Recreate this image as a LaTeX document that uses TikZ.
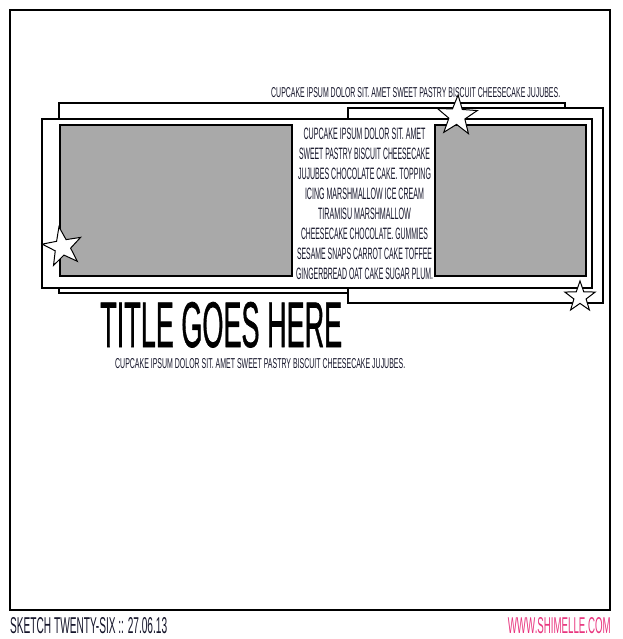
\documentclass[tikz,border=0pt]{standalone}
\usepackage{fontspec}
\setmainfont{Liberation Sans}
\newfontfamily\titlefont[FakeBold=1.2]{Liberation Sans}
\usepackage{graphicx}
\usetikzlibrary{shapes.geometric}
\definecolor{photoGray}{HTML}{A9A9A9}
\definecolor{urlPink}{HTML}{E8357E}
\definecolor{inkText}{HTML}{15152A}
\newcommand\fitw[3]{\resizebox{#1pt}{#2pt}{#3}}
\begin{document}
\begin{tikzpicture}[x=1pt,y=-1pt,
  frame/.style={draw, line width=2.4pt},
  mat/.style={draw, fill=white, line width=1.3pt},
  photo/.style={draw, fill=photoGray, line width=1.1pt},
  starshape/.style={draw, fill=white, star, star points=5, star point ratio=2.5, inner sep=0pt, line width=1pt},
  txt/.style={inner sep=0pt, text=inkText}]
\useasboundingbox (0,0) rectangle (622,639);
\draw[frame] (10,10) rectangle (610,610);
\draw[mat] (59,103) rectangle (565,293);
\draw[mat] (348,108) rectangle (603,303);
\draw[mat] (42,119) rectangle (592,288);
\draw[photo] (60,125) rectangle (292,276);
\draw[photo] (435,125) rectangle (586,276);

\node[txt, anchor=base west] (cap1) at (271,98) {\fitw{289}{10}{CUPCAKE IPSUM DOLOR SIT. AMET SWEET PASTRY BISCUIT CHEESECAKE JUJUBES.}};

\foreach \t/\w [count=\i] in {
  CUPCAKE IPSUM DOLOR SIT. AMET/122,
  SWEET PASTRY BISCUIT CHEESECAKE/131,
  JUJUBES CHOCOLATE CAKE. TOPPING/133,
  ICING MARSHMALLOW ICE CREAM/119,
  TIRAMISU MARSHMALLOW/93,
  CHEESECAKE CHOCOLATE. GUMMIES/127,
  SESAME SNAPS CARROT CAKE TOFFEE/135,
  GINGERBREAD OAT CAKE SUGAR PLUM./137}
  \node[txt, anchor=base] (m\i) at (364.5,{139.5+20*(\i-1)}) {\fitw{\w}{11.5}{\t}};

\node[txt, anchor=base west, text=black] (title) at (100,347) {\fitw{242}{45}{\titlefont TITLE GOES HERE}};
\node[txt, anchor=base west] (sub) at (115,368) {\fitw{290}{10}{CUPCAKE IPSUM DOLOR SIT. AMET SWEET PASTRY BISCUIT CHEESECAKE JUJUBES.}};

\node[txt, anchor=base west] (sketch) at (10,633) {\fitw{157}{16}{SKETCH TWENTY-SIX :: 27.06.13}};
\node[txt, anchor=base east, text=urlPink] (url) at (611,633) {\fitw{103}{16}{WWW.SHIMELLE.COM}};

\node[starshape, minimum size=41pt, rotate=10] (s1) at (62.5,247) {};
\node[starshape, minimum size=42pt, rotate=-3] (s2) at (457,116) {};
\node[starshape, minimum size=32pt] (s3) at (580,297) {};
\end{tikzpicture}
\end{document}
